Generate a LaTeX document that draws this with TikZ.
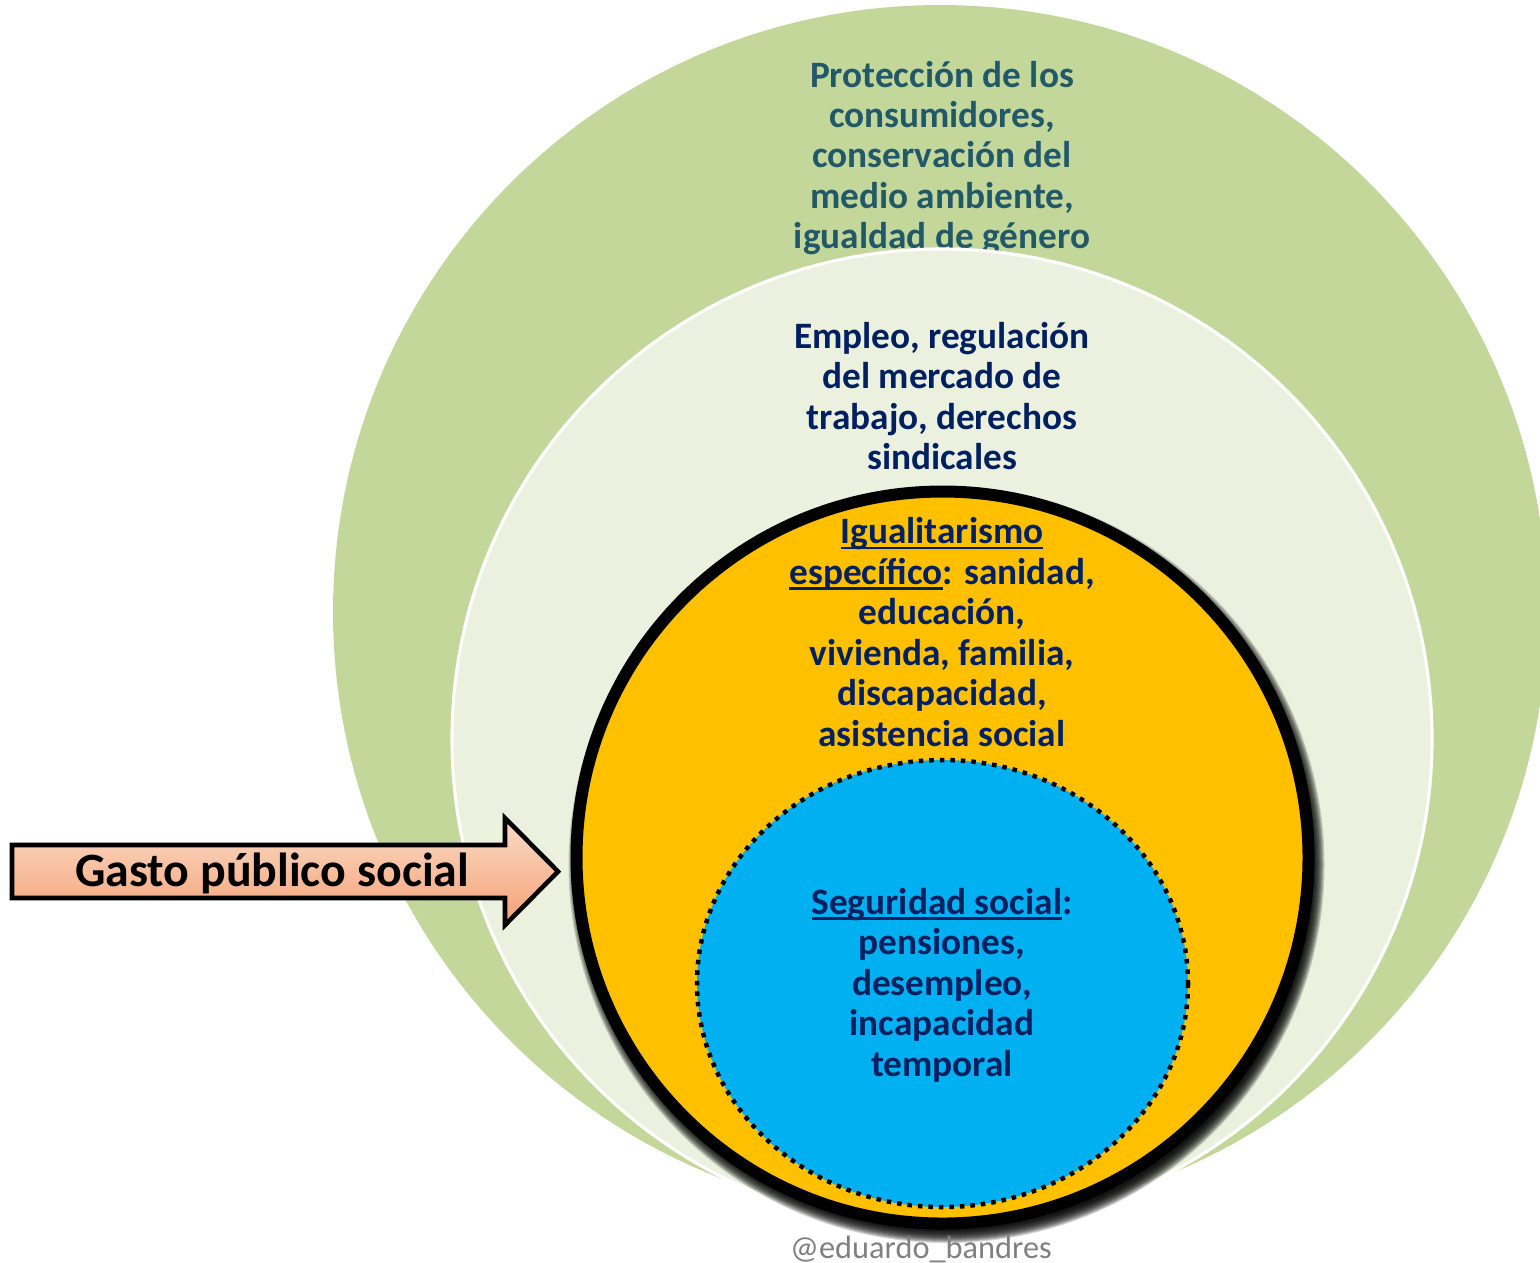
\documentclass[tikz,border=0pt]{standalone}
\usepackage{fontspec}
\setmainfont{Carlito}
\usepackage{tikz}
\usetikzlibrary{calc}
\definecolor{greenring}{HTML}{C4D79B}
\definecolor{palering}{HTML}{EBF1DE}
\definecolor{goldring}{HTML}{FFC000}
\definecolor{bluecore}{HTML}{00B0F0}
\definecolor{tealtext}{HTML}{215968}
\definecolor{navytext}{HTML}{002060}
\definecolor{arrowtop}{HTML}{F9DCC8}
\definecolor{arrowmid}{HTML}{F9C283}
\definecolor{arrowbot}{HTML}{F6A074}
\definecolor{signgray}{HTML}{808080}
% underline close to the baseline
\newcommand{\ulbar}[1]{\setbox0\hbox{#1}\rlap{\rule[-0.15em]{\wd0}{0.075em}}\box0}

\begin{document}
\begin{tikzpicture}[x=0.01cm, y=-0.01cm,
  lbl/.style={font=\bfseries\fontsize{10.6}{11.5}\selectfont, align=center, inner sep=0pt}]
\useasboundingbox (0,0) rectangle (1540,1262);
% outer ring
\fill[greenring] (940,612) circle (607);
\node[lbl, text=tealtext] (outer) at (942,158)
  {Protección de los\\consumidores,\\conservación del\\medio ambiente,\\igualdad de género};
% second ring
\draw[fill=palering, draw=white, line width=0.9pt] (942,739) circle (490);
\node[lbl, text=navytext] (labour) at (942,396)
  {Empleo, regulación\\del mercado de\\trabajo, derechos\\sindicales};
% shadow of the gasto ring
\foreach \r in {366,...,378}
  \fill[black, opacity=0.16] (946.5,865) circle (\r);
\draw[fill=goldring, line width=0.12cm] (942.5,857.5) circle (366);
\node[lbl, text=navytext] (specific) at (942,632)
  {\ulbar{Igualitarismo}\\\ulbar{específico}: sanidad,\\educación,\\vivienda, familia,\\discapacidad,\\asistencia social};
% core
\draw[fill=bluecore, line width=0.045cm, dash pattern=on 0.045cm off 0.06cm]
  (942.5,983.5) ellipse [x radius=245.5, y radius=223.5];
\node[lbl, text=navytext] (security) at (942,985)
  {\ulbar{Seguridad social}:\\pensiones,\\desempleo,\\incapacidad\\temporal};
% arrow
\draw[line width=1.3pt, top color=arrowtop, middle color=arrowmid, bottom color=arrowbot]
  (12,845) -- (505,845) -- (505,818) -- (558,871.5) -- (505,925) -- (505,898) -- (12,898) -- cycle;
\node[font=\bfseries\fontsize{13.6}{15}\selectfont, inner sep=0pt] (gasto) at (272,873) {Gasto público social};
\node[font=\fontsize{9.2}{10}\selectfont, text=signgray, anchor=base, inner sep=0pt] (sign) at (921,1258) {@eduardo\_bandres};
\end{tikzpicture}
\end{document}
